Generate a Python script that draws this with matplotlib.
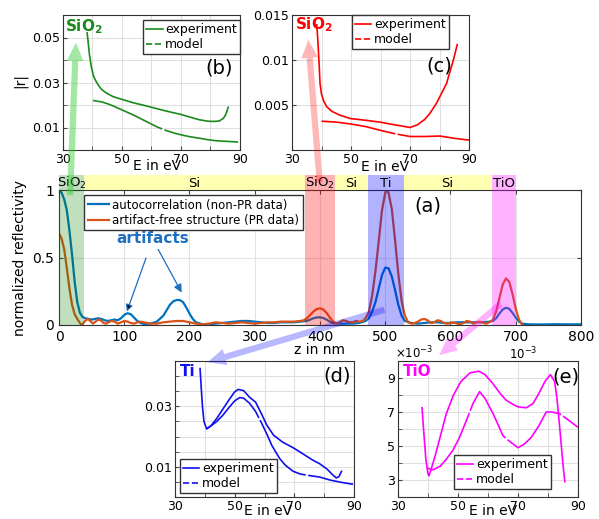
import matplotlib
matplotlib.use('Agg')
import matplotlib.pyplot as plt
from matplotlib.lines import Line2D
from matplotlib.patches import FancyArrowPatch

plt.rcParams['font.family'] = 'DejaVu Sans'

# ---- main panel (a): depth profiles ----
z_auto = [0, 4, 8, 12, 16, 20, 24, 28, 32, 36, 40, 45, 50, 55, 60, 65, 70, 75, 80, 85,
          90, 95, 100, 105, 110, 115, 120, 125, 130, 140, 150, 160, 165, 170, 175, 180,
          185, 190, 195, 200, 205, 210, 220, 230, 240, 250, 260, 270, 280, 290, 300,
          310, 320, 330, 340, 350, 360, 370, 380, 385, 390, 395, 400, 405, 410, 415,
          420, 430, 440, 450, 460, 470, 475, 480, 485, 490, 495, 500, 505, 510, 515,
          520, 525, 530, 540, 550, 560, 570, 580, 590, 600, 610, 620, 630, 640, 650,
          660, 665, 670, 675, 680, 685, 690, 695, 700, 705, 710, 720, 740, 760, 780, 800]
r_auto = [1.0, 0.98, 0.93, 0.85, 0.70, 0.52, 0.32, 0.17, 0.09, 0.06, 0.05, 0.045, 0.04,
          0.045, 0.05, 0.045, 0.035, 0.03, 0.035, 0.04, 0.035, 0.05, 0.075, 0.087, 0.08,
          0.055, 0.03, 0.015, 0.008, 0.01, 0.025, 0.07, 0.11, 0.15, 0.175, 0.185, 0.185,
          0.17, 0.13, 0.085, 0.045, 0.02, 0.005, 0.005, 0.01, 0.015, 0.02, 0.025, 0.03,
          0.03, 0.025, 0.02, 0.015, 0.015, 0.02, 0.02, 0.02, 0.025, 0.03, 0.04, 0.05,
          0.056, 0.057, 0.052, 0.04, 0.025, 0.015, 0.01, 0.01, 0.01, 0.015, 0.03, 0.05,
          0.1, 0.17, 0.27, 0.37, 0.425, 0.42, 0.36, 0.26, 0.15, 0.07, 0.03, 0.015, 0.01,
          0.015, 0.02, 0.02, 0.015, 0.015, 0.02, 0.02, 0.02, 0.02, 0.02, 0.025, 0.03,
          0.05, 0.085, 0.115, 0.128, 0.12, 0.09, 0.055, 0.025, 0.01, 0.005, 0.004, 0.006,
          0.005, 0.005]

z_pr = [0, 4, 8, 12, 16, 20, 24, 28, 32, 35, 40, 44, 48, 52, 56, 60, 64, 68, 72, 76, 80,
        85, 90, 95, 100, 105, 110, 115, 120, 125, 130, 140, 150, 160, 170, 180, 185, 190,
        200, 210, 220, 230, 240, 250, 260, 270, 280, 290, 300, 310, 320, 330, 340, 350,
        360, 370, 375, 380, 385, 390, 395, 400, 405, 410, 415, 420, 425, 430, 435, 440,
        445, 450, 455, 460, 465, 470, 475, 480, 485, 490, 495, 500, 502, 505, 510, 515,
        520, 525, 530, 535, 540, 545, 550, 555, 560, 565, 570, 575, 580, 585, 590, 595,
        600, 605, 610, 615, 620, 625, 630, 635, 640, 645, 650, 655, 660, 665, 670, 675,
        680, 685, 690, 695, 700, 705, 710]
r_pr = [0.68, 0.64, 0.56, 0.42, 0.27, 0.15, 0.08, 0.045, 0.015, 0.0, 0.03, 0.045, 0.03,
        0.01, 0.025, 0.04, 0.035, 0.015, 0.01, 0.02, 0.03, 0.025, 0.01, 0.02, 0.03, 0.025,
        0.015, 0.01, 0.02, 0.025, 0.02, 0.01, 0.01, 0.02, 0.025, 0.03, 0.03, 0.03, 0.02,
        0.01, 0.005, 0.01, 0.02, 0.015, 0.01, 0.015, 0.02, 0.015, 0.01, 0.015, 0.02, 0.02,
        0.025, 0.025, 0.025, 0.03, 0.035, 0.05, 0.075, 0.1, 0.118, 0.123, 0.115, 0.09,
        0.055, 0.025, 0.01, 0.02, 0.035, 0.03, 0.02, 0.02, 0.03, 0.025, 0.03, 0.05, 0.1,
        0.22, 0.4, 0.62, 0.85, 0.98, 1.0, 0.98, 0.86, 0.63, 0.38, 0.18, 0.07, 0.02, 0.01,
        0.015, 0.025, 0.04, 0.045, 0.035, 0.015, 0.02, 0.035, 0.03, 0.015, 0.01, 0.015,
        0.02, 0.01, 0.005, 0.015, 0.03, 0.025, 0.01, 0.02, 0.025, 0.015, 0.01, 0.02, 0.04,
        0.1, 0.2, 0.3, 0.345, 0.32, 0.23, 0.12, 0.04, 0.0]

layer_names = ['SiO$_2$', 'Si', 'SiO$_2$', 'Si', 'Ti', 'Si', 'TiO']
layer_start = [0, 38, 377, 423, 473, 528, 663]
layer_end = [38, 377, 423, 473, 528, 663, 700]
layer_colors = ['green', 'yellow', 'red', 'yellow', 'blue', 'yellow', 'magenta']

# ---- insets: |r| vs photon energy ----
b_exp_E = [38.2, 38.6, 39.0, 39.6, 40.3, 41.0, 41.9, 43, 44.5, 47, 50, 53.8, 57, 60, 65,
           70, 76, 79, 81, 83, 84.3, 85.2, 86]
b_exp_r = [0.052, 0.047, 0.042, 0.037, 0.033, 0.031, 0.029, 0.027, 0.0255, 0.0237, 0.0225,
           0.021, 0.020, 0.019, 0.0173, 0.0158, 0.0135, 0.0128, 0.0127, 0.0129, 0.014,
           0.0158, 0.019]
b_mod_E = [40.2, 43, 45, 47, 50, 53.8, 57, 59.4, 62, 65.1, 68, 70.8, 73.5, 76.4, 79, 82,
           86, 90]
b_mod_r = [0.0220, 0.0214, 0.0206, 0.0196, 0.0178, 0.0156, 0.0135, 0.0119, 0.0102, 0.0086,
           0.0074, 0.0065, 0.0058, 0.0052, 0.0046, 0.0041, 0.0038, 0.0035]

c_exp_E = [38.4, 38.8, 39.2, 39.5, 40.0, 40.8, 41.8, 43.5, 46, 49.7, 55, 59.8, 63, 66.6,
           70, 72.5, 75, 76.8, 79, 82.4, 84.7, 86]
c_exp_r = [0.0139, 0.0120, 0.0095, 0.0074, 0.0062, 0.0054, 0.0048, 0.0043, 0.0039, 0.0035,
           0.0033, 0.0031, 0.0029, 0.0027, 0.0025, 0.0028, 0.0034, 0.0041, 0.0052, 0.0074,
           0.0100, 0.0117]
c_mod_E = [40, 45, 49.7, 55, 61, 65, 70, 75, 80.2, 85, 90]
c_mod_r = [0.0032, 0.0031, 0.0029, 0.0026, 0.0021, 0.0018, 0.0015, 0.0015, 0.00155,
           0.0013, 0.0011]

d_exp_E = [38.4, 38.8, 39.2, 39.7, 40.6, 42, 44, 46, 48, 50, 51.2, 53, 55, 57, 59, 60.7,
           63, 66, 69.6, 73, 76, 78.5, 81, 83, 84.1, 85, 85.8]
d_exp_r = [0.0425, 0.036, 0.030, 0.025, 0.0225, 0.0235, 0.026, 0.029, 0.032, 0.0348,
           0.0356, 0.0352, 0.033, 0.0314, 0.0275, 0.0239, 0.0205, 0.0182, 0.0163, 0.0142,
           0.0123, 0.011, 0.0092, 0.0072, 0.0063, 0.0068, 0.0085]
d_mod_E = [40.6, 42, 44, 46, 48, 50, 51.7, 53, 55, 57, 59, 60.7, 62.5, 65.1, 67, 69.6, 72,
           75, 78.5, 82, 86, 89.7]
d_mod_r = [0.0226, 0.0235, 0.025, 0.027, 0.0295, 0.0318, 0.0329, 0.0327, 0.031, 0.0283,
           0.0245, 0.021, 0.017, 0.0127, 0.0105, 0.0085, 0.0076, 0.0071, 0.0066, 0.0056,
           0.0048, 0.0042]

# TiO values in units of 1e-3
e_exp_E = [38.0, 38.6, 39.3, 40.0, 40.3, 41, 42.5, 44, 46.1, 48.5, 51, 54, 56.9, 59, 61.5,
           64, 66, 68.3, 70, 72.8, 75, 77, 79, 80.8, 82.2, 83, 84, 85, 85.6]
e_exp_r = [7.25, 5.8, 4.2, 3.35, 3.25, 3.6, 4.5, 5.5, 6.9, 8.0, 8.8, 9.3, 9.4, 9.2, 8.7,
           8.1, 7.7, 7.45, 7.3, 7.25, 7.5, 8.1, 8.8, 9.2, 8.8, 7.8, 5.9, 3.9, 2.9]
e_mod_E = [39.8, 41.7, 44, 46, 48.3, 50.5, 52.8, 55, 57.2, 59, 61.7, 63.5, 65, 67, 70, 72,
           74.4, 77, 79.4, 81, 83.9, 87, 90]
e_mod_r = [3.7, 3.6, 3.8, 4.2, 4.75, 5.5, 6.5, 7.5, 8.2, 7.8, 6.9, 6.2, 5.6, 5.3, 4.9, 5.1,
           5.5, 6.2, 7.0, 7.0, 6.9, 6.5, 6.1]

W, H = 599, 519


def ax_px(fig, l, t, r, b):
    # axes from pixel box (left, top, right, bottom)
    return fig.add_axes([l / W, 1 - b / H, (r - l) / W, (b - t) / H])


def fxy(x, y):
    return (x / W, 1 - y / H)


fig = plt.figure(figsize=(W / 100, H / 100), dpi=100)

# main panel
ax = ax_px(fig, 59, 190, 581, 325)
ax.plot(z_auto, r_auto, color='#0072BD', lw=1.6, label='autocorrelation (non-PR data)')
ax.plot(z_pr, r_pr, color='#D95319', lw=1.6, label='artifact-free structure (PR data)')
for z0, z1, c in zip(layer_start, layer_end, layer_colors):
    if c != 'yellow':
        ax.axvspan(z0, z1, color=c, alpha=0.25 if c == 'green' else 0.3, lw=0, zorder=6)
ax.set_xlim(0, 800)
ax.set_ylim(0, 1)
ax.set_xticks(range(0, 801, 100))
ax.set_yticks([0, 0.5, 1])
ax.set_yticklabels(['0', '0.5', '1'])
ax.tick_params(direction='in', top=True, right=True, labelsize=10, length=3,
               color='#444444')
ax.grid(color='#e3e3e3', lw=0.8)
for s in ax.spines.values():
    s.set_color('#333333')
ax.set_ylabel('normalized reflectivity', fontsize=10, labelpad=4)
ax.legend(loc='upper left', bbox_to_anchor=fxy(84, 195), bbox_transform=fig.transFigure,
          borderaxespad=0, fontsize=8.5, handlelength=1.8, fancybox=False,
          edgecolor='#333333', framealpha=1, borderpad=0.3, labelspacing=0.2,
          handletextpad=0.3)
ax.text(565, 0.88, '(a)', fontsize=14, ha='center', va='center')
ax.annotate('artifacts', xy=(104, 0.1), xytext=(144, 0.64), ha='center', va='center',
            fontsize=11, fontweight='bold', color='#1f6fbf',
            arrowprops=dict(arrowstyle='-|>', ec='#1f6fbf', fc='black', lw=0.9,
                            shrinkA=7, shrinkB=0, mutation_scale=10))
ax.annotate('', xy=(188, 0.24), xytext=(152, 0.56),
            arrowprops=dict(arrowstyle='-|>', color='#1f6fbf', lw=0.9,
                            shrinkA=0, shrinkB=0, mutation_scale=12))
fig.text(*fxy(320, 350), 'z in nm', fontsize=10, ha='center', va='center')

# layer strip above panel (a)
strip = ax_px(fig, 59, 175, 581, 190)
for name, z0, z1, c in zip(layer_names, layer_start, layer_end, layer_colors):
    strip.axvspan(z0, z1, color=c, alpha=0.25 if c == 'green' else 0.3, lw=0)
    strip.text((z0 + z1) / 2, 0.45, name, ha='center', va='center', fontsize=9.5)
strip.set_xlim(0, 800)
strip.set_ylim(0, 1)
strip.axis('off')

# insets
insets = [
    dict(box=(63, 15, 240, 150), col='#1b8a1b', name='SiO$_\\mathbf{2}$', name_xy=(84, 27),
         tag='(b)', tag_xy=(219, 68), ylim=(0, 0.06), yt=[0.01, 0.03, 0.05],
         ytl=['0.01', '0.03', '0.05'], ym=[0.02, 0.04],
         data=(b_exp_E, b_exp_r, b_mod_E, b_mod_r), leg=('upper right', (240, 20)),
         xl=(157, 166)),
    dict(box=(292, 15, 469, 150), col='#ff0000', name='SiO$_\\mathbf{2}$', name_xy=(314, 25),
         tag='(c)', tag_xy=(439, 66), ylim=(0, 0.015), yt=[0.005, 0.01, 0.015],
         ytl=['0.005', '0.01', '0.015'], ym=[],
         data=(c_exp_E, c_exp_r, c_mod_E, c_mod_r), leg=('upper left', (352, 15)),
         xl=(385, 167)),
    dict(box=(175, 361, 354, 497), col='#1010f0', name='Ti', name_xy=(188, 371),
         tag='(d)', tag_xy=(337, 376), ylim=(0, 0.045), yt=[0.01, 0.03],
         ytl=['0.01', '0.03'], ym=[0.005, 0.015, 0.02, 0.025, 0.035, 0.04],
         data=(d_exp_E, d_exp_r, d_mod_E, d_mod_r), leg=('lower left', (180, 493)),
         xl=(268, 511)),
    dict(box=(398, 361, 578, 497), col='#ff00ff', name='TiO', name_xy=(417, 371),
         tag='(e)', tag_xy=(566, 377), ylim=(2, 10), yt=[3, 5, 7, 9],
         ytl=['3', '5', '7', '9'], ym=[2, 4, 6, 8, 10],
         data=(e_exp_E, e_exp_r, e_mod_E, e_mod_r), leg=('lower left', (454, 489)),
         xl=(493, 511)),
]

for p in insets:
    a = ax_px(fig, *p['box'])
    eE, er, mE, mr = p['data']
    a.plot(eE, er, color=p['col'], lw=1.2)
    a.plot(mE, mr, color=p['col'], lw=1.2, ls=(0, (45, 1.5)))
    a.set_xlim(30, 90)
    a.set_ylim(*p['ylim'])
    a.set_xticks([30, 50, 70, 90])
    a.set_xticks([40, 60, 80], minor=True)
    a.set_yticks(p['yt'])
    a.set_yticklabels(p['ytl'])
    a.set_yticks(p['ym'], minor=True)
    a.tick_params(which='both', direction='in', labelsize=9, length=3, color='#444444',
                  pad=2)
    a.grid(which='both', color='#e0e0e0', lw=0.8)
    for s in a.spines.values():
        s.set_color('#333333')
    handles = [Line2D([], [], color=p['col'], lw=1.2),
                Line2D([], [], color=p['col'], lw=1.2, ls='--')]
    a.legend(handles, ['experiment', 'model'], loc=p['leg'][0],
             bbox_to_anchor=fxy(*p['leg'][1]), bbox_transform=fig.transFigure,
             borderaxespad=0, fontsize=9, handlelength=1.3, handletextpad=0.2,
             fancybox=False, edgecolor='#333333', framealpha=1, borderpad=0.25,
             labelspacing=0.15)
    fig.text(*fxy(*p['name_xy']), p['name'], color=p['col'], fontsize=11,
             fontweight='bold', ha='center', va='center')
    fig.text(*fxy(*p['tag_xy']), p['tag'], fontsize=14, ha='center', va='center')
    fig.text(*fxy(*p['xl']), 'E in eV', fontsize=10, ha='center', va='center')

fig.text(*fxy(20, 81), '|r|', fontsize=10, rotation=90, ha='center', va='center')
fig.text(*fxy(414, 353), '$\\times10^{-3}$', fontsize=8.5, ha='center', va='center')
fig.text(*fxy(523, 354), '10$^{-3}$', fontsize=8.5, ha='center', va='center')

# translucent arrows linking the layers to their insets
arrows = [((70, 198), (76, 40), 'limegreen', 0.45),
          ((320, 185), (308, 37), 'red', 0.28),
          ((387, 309), (205, 363), 'blue', 0.28),
          ((503, 302), (437, 357), 'magenta', 0.3)]
for tail, tip, c, al in arrows:
    fig.add_artist(FancyArrowPatch(fxy(*tail), fxy(*tip), transform=fig.transFigure,
                                   arrowstyle='simple,head_length=1.3,head_width=1.2,tail_width=0.45',
                                   mutation_scale=10, color=c, alpha=al, lw=0, zorder=20))

fig.savefig('out.png', dpi=100)
